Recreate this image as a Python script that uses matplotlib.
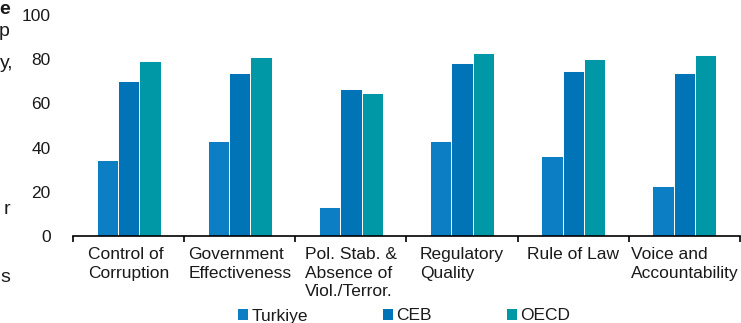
import numpy as np
import matplotlib.pyplot as plt
from matplotlib.patches import Patch

plt.rcParams['font.family'] = ['Liberation Sans', 'DejaVu Sans']

categories = ["Control of\nCorruption", "Government\nEffectiveness",
              "Pol. Stab. &\nAbsence of\nViol./Terror.", "Regulatory\nQuality",
              "Rule of Law", "Voice and\nAccountability"]
series = ["Turkiye", "CEB", "OECD"]
turkiye = [34.2, 43.2, 12.9, 42.8, 36.2, 22.5]
ceb = [70.0, 73.9, 66.4, 78.5, 74.6, 73.7]
oecd = [79.0, 80.9, 64.7, 83.0, 80.3, 81.7]
colors = ["#0b7ec4", "#0074b7", "#0098a6"]

fig = plt.figure(figsize=(7.41, 3.23), dpi=100)
ax = fig.add_axes([73/741, 87/323, 667/741, 221/323])

x = np.arange(len(categories))
w = 0.192
for i, (vals, c, name) in enumerate(zip([turkiye, ceb, oecd], colors, series)):
    ax.bar(x + (i - 1) * w, vals, w, color=c, edgecolor="white", linewidth=0.7, label=name)

ax.set_xlim(-0.5, len(categories) - 0.5)
ax.set_ylim(0, 100)
ax.set_yticks(range(0, 101, 20))
ax.tick_params(axis="y", length=0, labelsize=12.5, pad=16, labelcolor="#1a1a1a")
ax.set_xticks(x)
ax.set_xticklabels(categories, fontsize=12.5, color="#1a1a1a", linespacing=1.3,
                   multialignment="left")
ax.set_xticks(np.arange(-0.5, len(categories)), minor=True)
ax.tick_params(axis="x", which="major", length=0, pad=8)
ax.tick_params(axis="x", which="minor", length=4, width=1.2, direction="out", color="black")

for s in ["top", "right", "left"]:
    ax.spines[s].set_visible(False)
ax.spines["bottom"].set_linewidth(1.2)
ax.spines["bottom"].set_color("black")

handles = [Patch(facecolor=c, edgecolor="none") for c in colors]
fig.legend(handles, series, loc="center", bbox_to_anchor=(404/741, 7/323), ncol=3,
           frameon=False, fontsize=12.5, handlelength=0.6, handleheight=0.6,
           handletextpad=0.2, columnspacing=4.3, labelcolor="#1a1a1a")

# stray characters from the surrounding text column
for ch, xp, yp, wt in [("e", 10, 9, "bold"), ("p", 10, 32, "normal"), ("y,", 13, 64, "normal"),
                       ("r", 10, 210, "normal"), ("s", 10, 277, "normal")]:
    fig.text(xp/741, 1 - yp/323, ch, ha="right", va="center", fontsize=14,
             fontweight=wt, color="#1a1a1a")

fig.savefig("out.png", dpi=100)
